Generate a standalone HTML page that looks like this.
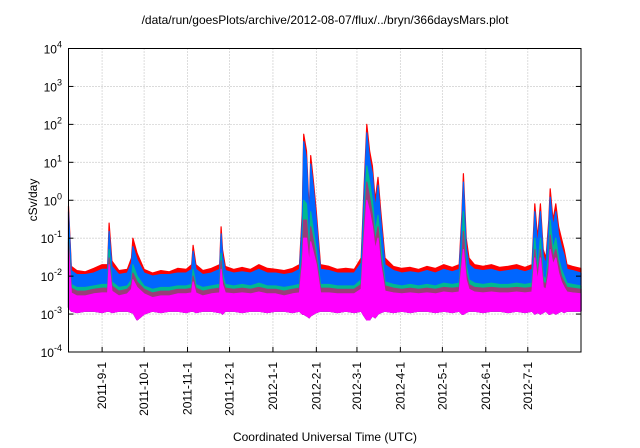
<!DOCTYPE html>
<html><head><meta charset="utf-8"><style>
body{margin:0;background:#fff;}
svg{display:block;font-family:"Liberation Sans",sans-serif;}
</style></head><body>
<svg id="chart" width="640" height="448">
<text x="325" y="24" font-size="12" text-anchor="middle">/data/run/goesPlots/archive/2012-08-07/flux/../bryn/366daysMars.plot</text>
<text transform="translate(37,200) rotate(-90)" font-size="12" text-anchor="middle">cSv/day</text>
<text x="325" y="441" font-size="12" text-anchor="middle">Coordinated Universal Time (UTC)</text>
<g id="grid"></g><g id="series"></g><g id="axes"></g>
</svg>
<script>
const days=[0,2,6,12,18,24,28,29,31,36,42,45,46,49,54,60,66,72,78,84,88,89,91,96,102,108,109,110,112,118,124,130,136,142,148,154,160,165,167,168,170,172,173,175,177,180,186,192,198,204,209,211,213,215,217,219,221,223,226,232,238,244,250,256,262,268,274,279,281,282,284,286,290,296,302,308,314,320,326,331,333,335,337,339,341,343,344,346,348,350,352,354,356,360,366];
const redVals=[0.7,0.018,0.014,0.013,0.016,0.02,0.02,0.25,0.025,0.014,0.015,0.03,0.1,0.04,0.015,0.012,0.014,0.013,0.016,0.015,0.02,0.065,0.02,0.014,0.016,0.02,0.2,0.05,0.018,0.015,0.017,0.015,0.02,0.016,0.015,0.014,0.016,0.02,0.5,55,20,0.4,15,3,0.5,0.02,0.018,0.015,0.016,0.015,0.03,2,100,20,8,1,4,0.5,0.03,0.018,0.016,0.017,0.015,0.018,0.016,0.02,0.017,0.02,0.5,5,0.1,0.03,0.02,0.018,0.02,0.017,0.018,0.02,0.017,0.02,0.8,0.1,0.8,0.05,0.03,0.3,2,0.3,0.8,0.2,0.1,0.05,0.02,0.018,0.016];
const blueVals=[0.5,0.014,0.011,0.011,0.012,0.015,0.015,0.15,0.018,0.011,0.012,0.022,0.06,0.027,0.012,0.01,0.011,0.011,0.012,0.012,0.015,0.045,0.015,0.011,0.012,0.015,0.13,0.035,0.014,0.012,0.013,0.012,0.015,0.012,0.012,0.011,0.012,0.015,0.3,35,12,0.25,9,2,0.3,0.015,0.014,0.012,0.012,0.012,0.022,1.2,60,12,5,0.6,2.5,0.3,0.02,0.014,0.012,0.013,0.012,0.014,0.012,0.015,0.013,0.015,0.3,3,0.06,0.02,0.015,0.014,0.015,0.013,0.014,0.015,0.013,0.015,0.5,0.06,0.5,0.035,0.02,0.2,1.2,0.2,0.5,0.12,0.06,0.035,0.015,0.014,0.012];
const tealVals=[0.1,0.006,0.005,0.005,0.0055,0.006,0.006,0.05,0.007,0.005,0.0055,0.008,0.02,0.01,0.0055,0.0045,0.005,0.005,0.0055,0.0055,0.006,0.015,0.006,0.005,0.0055,0.006,0.04,0.012,0.006,0.0055,0.006,0.0055,0.0065,0.0055,0.0055,0.005,0.0055,0.006,0.05,1,0.8,0.05,0.5,0.15,0.05,0.006,0.006,0.0055,0.0055,0.0055,0.008,0.3,8,3,1,0.15,0.4,0.06,0.007,0.006,0.0055,0.006,0.0055,0.006,0.0055,0.0065,0.006,0.0065,0.05,0.5,0.02,0.008,0.0065,0.006,0.0065,0.006,0.006,0.0065,0.006,0.0065,0.1,0.015,0.1,0.01,0.008,0.04,0.3,0.05,0.1,0.03,0.015,0.01,0.0065,0.006,0.0055];
const purpleVals=[0.08,0.0048,0.004,0.004,0.0045,0.0048,0.0048,0.03,0.0055,0.004,0.0045,0.006,0.012,0.007,0.0045,0.0036,0.004,0.004,0.0045,0.0045,0.0048,0.01,0.0048,0.004,0.0045,0.0048,0.025,0.008,0.0048,0.0045,0.0048,0.0045,0.005,0.0045,0.0045,0.004,0.0045,0.0048,0.03,0.3,0.3,0.03,0.2,0.08,0.03,0.0048,0.0048,0.0045,0.0045,0.0045,0.006,0.15,3,1.2,0.4,0.08,0.2,0.03,0.0055,0.0048,0.0045,0.0048,0.0045,0.0048,0.0045,0.005,0.0048,0.005,0.03,0.15,0.012,0.006,0.005,0.0048,0.005,0.0048,0.0048,0.005,0.0048,0.005,0.05,0.01,0.05,0.007,0.006,0.02,0.12,0.03,0.05,0.02,0.01,0.007,0.005,0.0048,0.0045];
const magTopVals=[0.05,0.0036,0.003,0.003,0.0034,0.0036,0.0036,0.02,0.004,0.003,0.0034,0.0045,0.008,0.005,0.0034,0.0027,0.003,0.003,0.0034,0.0034,0.0036,0.007,0.0036,0.003,0.0034,0.0036,0.015,0.006,0.0036,0.0034,0.0036,0.0034,0.0038,0.0034,0.0034,0.003,0.0034,0.0036,0.02,0.1,0.1,0.02,0.08,0.04,0.02,0.0036,0.0036,0.0034,0.0034,0.0034,0.0045,0.08,1,0.5,0.2,0.05,0.1,0.02,0.004,0.0036,0.0034,0.0036,0.0034,0.0036,0.0034,0.0038,0.0036,0.0038,0.02,0.05,0.008,0.0045,0.0038,0.0036,0.0038,0.0036,0.0036,0.0038,0.0036,0.0038,0.03,0.007,0.03,0.005,0.0045,0.012,0.05,0.02,0.03,0.012,0.007,0.005,0.0038,0.0036,0.0034];
const magBotVals=[0.0015,0.0012,0.0011,0.0012,0.0012,0.0011,0.0012,0.0012,0.0011,0.0012,0.0012,0.0011,0.0011,0.0007,0.001,0.0012,0.0011,0.0012,0.0012,0.0011,0.0012,0.0012,0.0011,0.0012,0.0012,0.0011,0.0011,0.001,0.0012,0.0012,0.0011,0.0012,0.0012,0.0011,0.0012,0.0012,0.0011,0.0012,0.001,0.001,0.0009,0.0008,0.0009,0.001,0.0011,0.0012,0.0012,0.0011,0.0012,0.0011,0.0012,0.0009,0.0007,0.0007,0.0009,0.0008,0.001,0.0011,0.0012,0.0011,0.0012,0.0011,0.0012,0.0012,0.0011,0.0012,0.0011,0.0012,0.001,0.001,0.0011,0.0012,0.0012,0.0011,0.0012,0.0012,0.0011,0.0012,0.0011,0.0012,0.001,0.0011,0.001,0.0011,0.0012,0.001,0.001,0.0011,0.001,0.0011,0.0012,0.0011,0.0012,0.0012,0.0012];
const monthDays=[24,54,85,115,146,177,206,237,267,298,328];
const monthLabels=["2011-9-1","2011-10-1","2011-11-1","2011-12-1","2012-1-1","2012-2-1","2012-3-1","2012-4-1","2012-5-1","2012-6-1","2012-7-1"];
const decadeExps=[-4,-3,-2,-1,0,1,2,3,4];

const L=68.5,R=581,T=48.5,B=352;
const xS=d=>L+d*(R-L)/366;
const yS=v=>B-(Math.log10(v)+4)*(B-T)/8;
const NS="http://www.w3.org/2000/svg";
function mk(tag,parent,attrs){const e=document.createElementNS(NS,tag);for(const k in attrs)e.setAttribute(k,attrs[k]);parent.appendChild(e);return e;}
const grid=document.getElementById('grid'),ser=document.getElementById('series'),ax=document.getElementById('axes');

decadeExps.forEach(p=>{const y=yS(Math.pow(10,p));
 if(p>-4&&p<4){const g=mk('line',grid,{x1:L,x2:R,y1:y,y2:y,stroke:'#aaa','stroke-width':0.8,'stroke-dasharray':'1,2'});
 
 }
 const t=mk('line',ax,{x1:L,x2:L+5,y1:y,y2:y,stroke:'#000'});
 
 
 const t2=mk('line',ax,{x1:R-5,x2:R,y1:y,y2:y,stroke:'#000'});
 
 
 const lb=mk('text',ax,{x:62,y:y+5,'font-size':12,'text-anchor':'end'});
 
 
 lb.innerHTML='10<tspan dy="-6" font-size="9">'+p+'</tspan>';
});
monthDays.forEach((d,i)=>{const x=xS(d);
 const g=mk('line',grid,{x1:x,x2:x,y1:T,y2:B,stroke:'#aaa','stroke-width':0.8,'stroke-dasharray':'1,2'});
 
 
 const t=mk('line',ax,{x1:x,x2:x,y1:B,y2:B-5,stroke:'#000'});
 
 
 const lb=mk('text',ax,{transform:'translate('+(x+4)+','+(B+10)+') rotate(-90)','font-size':12,'text-anchor':'end'});
 
 
 lb.textContent=monthLabels[i];
});
function band(top,bot,color,name){
 let d='M'+days.map((dd,i)=>xS(dd).toFixed(1)+','+yS(top[i]).toFixed(1)).join('L');
 for(let i=days.length-1;i>=0;i--)d+='L'+xS(days[i]).toFixed(1)+','+yS(bot[i]).toFixed(1);
 const p=mk('path',ser,{d:d+'Z',fill:color,stroke:color,'stroke-width':1.2,'stroke-linejoin':'round'});
 
 
}
band(redVals,magBotVals,'#ff0000','series-red');
band(blueVals,magBotVals,'#0066ff','series-blue');
band(tealVals,magBotVals,'#00b890','series-teal');
band(purpleVals,magBotVals,'#9b3c7a','series-purple');
band(magTopVals,magBotVals,'#ff00ff','series-magenta');
const fr=mk('rect',ax,{x:L,y:T,width:R-L,height:B-T,fill:'none',stroke:'#000','stroke-width':1});


</script>
</body></html>
